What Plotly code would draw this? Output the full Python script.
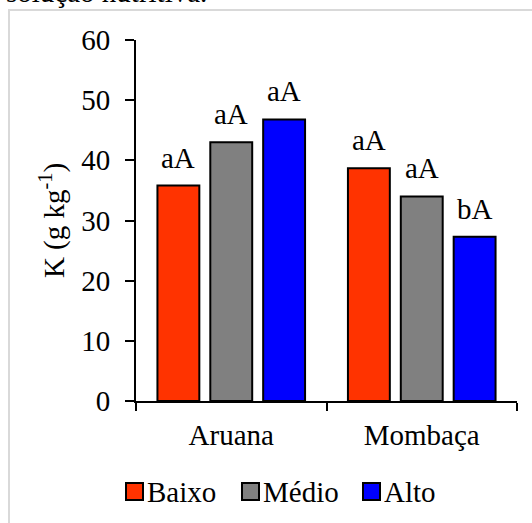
import plotly.graph_objects as go

# Data
cultivares = ["Aruana", "Mombaça"]
niveis = ["Baixo", "Médio", "Alto"]
cores = ["#FF3300", "#808080", "#0000FF"]
k_baixo = [35.8, 38.7]
k_medio = [43.0, 34.0]
k_alto = [46.8, 27.3]
letras_baixo = ["aA", "aA"]
letras_medio = ["aA", "aA"]
letras_alto = ["aA", "bA"]
y_ticks = [0, 10, 20, 30, 40, 50, 60]

series = [k_baixo, k_medio, k_alto]
letras = [letras_baixo, letras_medio, letras_alto]

FONT = "Liberation Serif"
FS = 29
W, H = 532, 523
ML, MR, MT, MB = 136, 15, 40, 122
BARGAP = 0.1675
BARGROUPGAP = 0.2075

fig = go.Figure()
for nome, cor, vals in zip(niveis, cores, series):
    fig.add_trace(go.Bar(
        x=cultivares, y=vals, name=nome,
        marker=dict(color=cor, line=dict(color="black", width=2)),
        showlegend=False,
    ))

# Significance letters above each bar
slot = (1 - BARGAP) / len(niveis)
annotations = []
for j, (vals, labs) in enumerate(zip(series, letras)):
    for i, (v, lab) in enumerate(zip(vals, labs)):
        annotations.append(dict(
            x=i + (j - 1) * slot, y=v, xref="x", yref="y",
            text=lab, showarrow=False, yanchor="bottom", xanchor="center",
            yshift=10, font=dict(family=FONT, size=FS, color="black"),
        ))

pw = W - ML - MR
ph = H - MT - MB


def px(xp):
    return (xp - ML) / pw


def py(yp):
    return (H - MB - yp) / ph


shapes = []
# Outer frame
shapes.append(dict(type="rect", xref="paper", yref="paper",
                   x0=px(9), x1=px(560), y0=py(560), y1=py(10),
                   line=dict(color="#d9d9d9", width=2), fillcolor="rgba(0,0,0,0)",
                   layer="below"))

# Legend row
leg_x = [126, 242, 363]
for xs, nome, cor in zip(leg_x, niveis, cores):
    shapes.append(dict(type="rect", xref="paper", yref="paper",
                       x0=px(xs), x1=px(xs + 17), y0=py(500), y1=py(483),
                       line=dict(color="black", width=2), fillcolor=cor))
    annotations.append(dict(
        x=px(xs + 19), y=py(491.5), xref="paper", yref="paper",
        text=nome, showarrow=False, xanchor="left", yanchor="middle",
        font=dict(family=FONT, size=FS, color="black"),
    ))

# Caption line of the surrounding text
annotations.append(dict(
    x=px(4), y=py(9.5), xref="paper", yref="paper",
    text="solução nutritiva.", showarrow=False, xanchor="left", yanchor="bottom",
    font=dict(family=FONT, size=FS, color="black"),
))

fig.update_layout(
    width=W, height=H,
    margin=dict(l=ML, r=MR, t=MT, b=MB),
    paper_bgcolor="white", plot_bgcolor="white",
    barmode="group", bargap=BARGAP, bargroupgap=BARGROUPGAP,
    font=dict(family=FONT, size=FS, color="black"),
    annotations=annotations, shapes=shapes,
    xaxis=dict(
        type="category", range=[-0.5, 1.5],
        showline=True, linecolor="black", linewidth=2,
        ticks="outside", tickson="boundaries", ticklen=8, tickwidth=2, tickcolor="black",
        ticklabelstandoff=7, showgrid=False, zeroline=False,
        tickfont=dict(family=FONT, size=FS),
    ),
    yaxis=dict(
        range=[0, 60], tickvals=y_ticks,
        showline=True, linecolor="black", linewidth=2,
        ticks="outside", ticklen=9, tickwidth=2, tickcolor="black",
        ticklabelstandoff=9, showgrid=False, zeroline=False,
        tickfont=dict(family=FONT, size=FS),
        title=dict(text="K (g kg<sup>-1</sup>)", standoff=8,
                   font=dict(family=FONT, size=FS)),
    ),
)

fig.write_html("out.html")
